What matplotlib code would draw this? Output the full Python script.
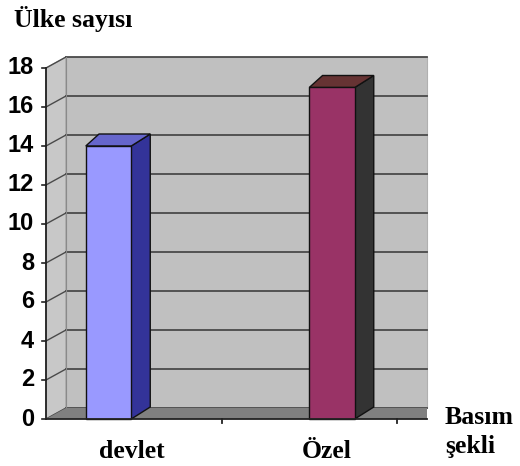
import matplotlib
matplotlib.use("Agg")
import matplotlib.pyplot as plt
from matplotlib.patches import Polygon

# ---- data ----
categories = ["devlet", "Özel"]
values = [14, 17]
yticks = [0, 2, 4, 6, 8, 10, 12, 14, 16, 18]
y_title = "Ülke sayısı"
x_title = "Basım\nşekli"

front_colors = ["#9999FF", "#993366"]
top_colors = ["#6666CC", "#663333"]
side_colors = ["#333399", "#333333"]

# ---- layout (pixel based) ----
W, H = 520, 466
X0_PX, XSTEP_PX = 108.5, 223.5      # category 0 center, spacing
Y0_PX, YSTEP_PX = 419.0, 19.5       # value 0 baseline, px per unit

def px2x(px):
    return (px - X0_PX) / XSTEP_PX

def dx_(px):
    return px / XSTEP_PX

def dy_(px):
    return px / YSTEP_PX

fig = plt.figure(figsize=(W / 100, H / 100), dpi=100)
ax = fig.add_axes([0, 0, 1, 1])
ax.set_xlim(px2x(0), px2x(W))
ax.set_ylim((Y0_PX - H) / YSTEP_PX, Y0_PX / YSTEP_PX)
ax.axis("off")

ymax = max(yticks)
xl = px2x(46)          # front-left of plot
xr = px2x(427)         # right edge
wdx, wdy = dx_(20), dy_(11)   # wall depth
bdx, bdy = dx_(19), dy_(12)   # bar depth
bw = dx_(45.5)

# side wall
ax.add_patch(Polygon([(xl, 0), (xl + wdx, wdy), (xl + wdx, ymax + wdy), (xl, ymax)],
                     closed=True, facecolor="#C8C8C8", edgecolor="#A0A0A0", lw=0.8, zorder=1))
# back wall
ax.add_patch(Polygon([(xl + wdx, wdy), (xr, wdy), (xr, ymax + wdy), (xl + wdx, ymax + wdy)],
                     closed=True, facecolor="#C0C0C0", edgecolor="#B0B0B0", lw=0.8, zorder=1))
# gridlines
for t in yticks:
    ax.plot([xl + wdx, xr], [t + wdy, t + wdy], color="#4A4A4A", lw=1.3, zorder=2)
    ax.plot([xl, xl + wdx], [t, t + wdy], color="#4A4A4A", lw=1.0, zorder=2)
ax.plot([xl + wdx, xl + wdx], [wdy, ymax + wdy], color="#8A8A8A", lw=0.8, zorder=2)
# floor
ax.add_patch(Polygon([(xl, 0), (xr, 0), (xr, wdy), (xl + wdx, wdy)],
                     closed=True, facecolor="#808080", edgecolor="none", zorder=3))

# bars
for i, v in enumerate(values):
    x1, x2 = i - bw / 2, i + bw / 2
    ax.add_patch(Polygon([(x2, 0), (x2 + bdx, bdy), (x2 + bdx, v + bdy), (x2, v)],
                         closed=True, facecolor=side_colors[i], edgecolor="#111111", lw=1.0, zorder=4))
    ax.add_patch(Polygon([(x1, v), (x2, v), (x2 + bdx, v + bdy), (x1 + bdx * 0.7, v + bdy)],
                         closed=True, facecolor=top_colors[i], edgecolor="#111111", lw=1.0, zorder=4))
    ax.add_patch(Polygon([(x1, 0), (x2, 0), (x2, v), (x1, v)],
                         closed=True, facecolor=front_colors[i], edgecolor="#111111", lw=1.0, zorder=5))

# axes lines
ax.plot([xl, xr], [0, 0], color="#222222", lw=1.3, zorder=6)
ax.plot([xl, xl], [0, ymax], color="#222222", lw=1.3, zorder=6)
for t in yticks:
    ax.plot([xl - dx_(4), xl], [t, t], color="#222222", lw=1.2, zorder=6)
    ax.text(px2x(34), t, str(t), ha="right", va="center", fontsize=17,
            fontweight="bold", family="Liberation Sans", color="black")
for tx in [px2x(222), px2x(397)]:
    ax.plot([tx, tx], [0, -dy_(4)], color="#222222", lw=1.3, zorder=6)

# category labels
label_px = [132, 327]
serif = dict(fontsize=18.5, fontweight="bold", family="Liberation Serif")
for lp, c in zip(label_px, categories):
    fig.text(lp / W, 1 - 458 / H, c, ha="center", va="baseline", **serif)

fig.text(14 / W, 1 - 27 / H, y_title, ha="left", va="baseline", **serif)
fig.text(445 / W, 1 - 424 / H, x_title.split("\n")[0], ha="left", va="baseline", **serif)
fig.text(445 / W, 1 - 453 / H, x_title.split("\n")[1], ha="left", va="baseline", **serif)

fig.savefig("out.png", dpi=100, facecolor="white")
